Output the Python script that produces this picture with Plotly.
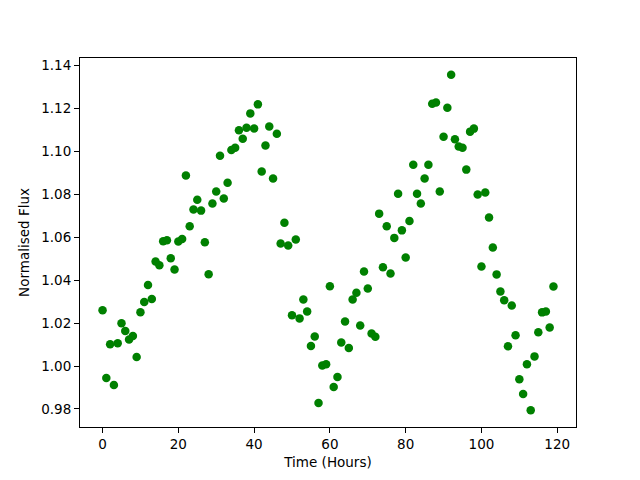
import plotly.graph_objects as go

time_hours = list(range(120))
flux = [
    1.0260, 0.9944, 1.0101, 0.9912, 1.0106, 1.0199, 1.0163, 1.0124, 1.0140, 1.0042,
    1.0251, 1.0298, 1.0377, 1.0312, 1.0487, 1.0470, 1.0581, 1.0586, 1.0502, 1.0450,
    1.0580, 1.0592, 1.0888, 1.0651, 1.0729, 1.0775, 1.0724, 1.0577, 1.0428, 1.0757,
    1.0813, 1.0980, 1.0780, 1.0854, 1.1006, 1.1017, 1.1098, 1.1059, 1.1110, 1.1177,
    1.1107, 1.1219, 1.0906, 1.1027, 1.1116, 1.0874, 1.1082, 1.0571, 1.0668, 1.0561,
    1.0237, 1.0589, 1.0222, 1.0310, 1.0254, 1.0093, 1.0138, 0.9828, 1.0003, 1.0008,
    1.0372, 0.9902, 0.9949, 1.0110, 1.0208, 1.0084, 1.0310, 1.0341, 1.0189, 1.0440,
    1.0361, 1.0152, 1.0136, 1.0710, 1.0460, 1.0651, 1.0431, 1.0597, 1.0803, 1.0632,
    1.0506, 1.0676, 1.0938, 1.0803, 1.0757, 1.0874, 1.0938, 1.1222, 1.1228, 1.0813,
    1.1068, 1.1203, 1.1357, 1.1056, 1.1023, 1.1017, 1.0915, 1.1092, 1.1106, 1.0799,
    1.0464, 1.0808, 1.0692, 1.0552, 1.0427, 1.0347, 1.0306, 1.0092, 1.0282, 1.0143,
    0.9938, 0.9870, 1.0008, 0.9794, 1.0045, 1.0157, 1.0250, 1.0254, 1.0180, 1.0371,
]
x_ticks = [0, 20, 40, 60, 80, 100, 120]
y_ticks = [0.98, 1.00, 1.02, 1.04, 1.06, 1.08, 1.10, 1.12, 1.14]

fig = go.Figure(go.Scatter(
    x=time_hours, y=flux, mode="markers",
    marker=dict(color="#008000", size=8.5, line=dict(width=0)),
    showlegend=False,
))

font = dict(family="DejaVu Sans", size=13.5, color="black")
axis_common = dict(
    showline=True, linecolor="black", linewidth=1, mirror=True,
    ticks="outside", ticklen=5, tickwidth=1, tickcolor="black",
    showgrid=False, zeroline=False, tickfont=font, automargin=False,
)
# page body has an 8px margin; compensate so the axes box lands where the reference has it
fig.update_layout(
    width=640, height=480,
    margin=dict(l=72, r=72, t=50, b=61),
    paper_bgcolor="white", plot_bgcolor="white",
    font=font,
    xaxis=dict(range=[-5.95, 124.95], tickvals=x_ticks,
               title=dict(text="Time (Hours)", font=font, standoff=6), **axis_common),
    yaxis=dict(range=[0.9716, 1.1435], tickvals=y_ticks, tickformat=".2f",
               title=dict(text="Normalised Flux", font=font, standoff=8), **axis_common),
)
fig.write_html("out.html")
